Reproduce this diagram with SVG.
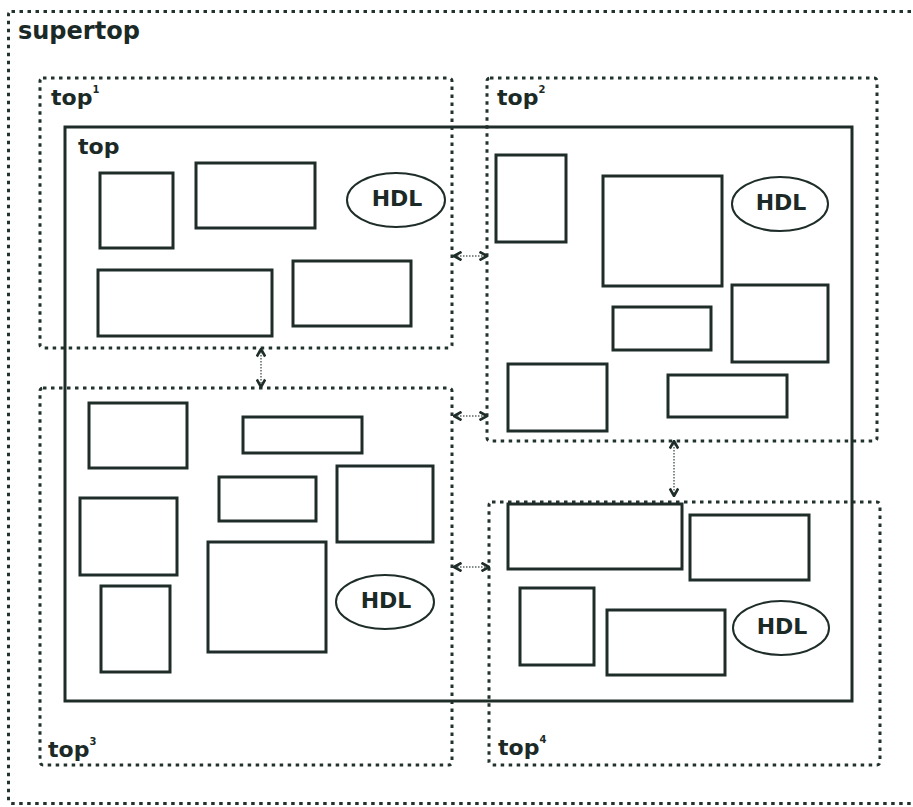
<svg xmlns="http://www.w3.org/2000/svg" width="913" height="807" viewBox="0 0 913 807">
  <defs>
    <style>
      .region { fill: none; stroke: #22322e; stroke-width: 3; stroke-dasharray: 3.5 4.5; }
      .box { fill: #ffffff; stroke: #1e2d29; stroke-width: 3; }
      .main { fill: none; stroke: #1e2d29; stroke-width: 3; }
      .hdl { fill: #ffffff; stroke: #1e2d29; stroke-width: 2; }
      .lbl { font-family: "DejaVu Sans", Verdana, sans-serif; font-weight: bold; fill: #1b2a26; }
      .big { font-size: 24px; }
      .mid { font-size: 22px; }
      .sup { font-size: 10px; }
      .hdlt { font-size: 22px; text-anchor: middle; }
      .link { fill: none; stroke: #5a6663; stroke-width: 1.5; stroke-dasharray: 1.5 1.5; }
    </style>
    <marker id="head" viewBox="0 0 10 10" refX="9" refY="5" markerWidth="10" markerHeight="10" markerUnits="userSpaceOnUse" orient="auto-start-reverse">
      <path d="M1.5,0.8 L9,5 L1.5,9.2" fill="none" stroke="#1e2d29" stroke-width="2.6"/>
    </marker>
  </defs>
  <rect width="913" height="807" fill="#ffffff"/>

  <g id="supertop">
    <rect class="region" x="8.5" y="11.5" width="910" height="792" rx="3"/>
    <text class="lbl big" x="18" y="39">supertop</text>
  </g>

  <g id="top1">
    <rect class="region" x="40" y="78" width="412" height="270" rx="3"/>
    <text class="lbl mid" x="51" y="105">top<tspan class="sup" dy="-12">1</tspan></text>
  </g>
  <g id="top2">
    <rect class="region" x="487" y="78" width="390" height="363" rx="3"/>
    <text class="lbl mid" x="497" y="105">top<tspan class="sup" dy="-12">2</tspan></text>
  </g>
  <g id="top3">
    <rect class="region" x="40" y="388" width="412" height="377" rx="3"/>
    <text class="lbl mid" x="48" y="757">top<tspan class="sup" dy="-12">3</tspan></text>
  </g>
  <g id="top4">
    <rect class="region" x="489" y="502" width="391" height="263" rx="3"/>
    <text class="lbl mid" x="498" y="755">top<tspan class="sup" dy="-12">4</tspan></text>
  </g>

  <g id="top">
    <rect class="main" x="65" y="127" width="787" height="574"/>
    <text class="lbl mid" x="78" y="154">top</text>
  </g>

  <g id="top1-blocks">
    <rect class="box" x="100" y="173" width="73" height="75"/>
    <rect class="box" x="196" y="163" width="119" height="65"/>
    <rect class="box" x="98" y="270" width="174" height="66"/>
    <rect class="box" x="293" y="261" width="118" height="65"/>
    <g id="hdl1">
      <ellipse class="hdl" cx="396" cy="200" rx="49" ry="27"/>
      <text class="lbl hdlt" x="397" y="206">HDL</text>
    </g>
  </g>

  <g id="top2-blocks">
    <rect class="box" x="496" y="155" width="70" height="87"/>
    <rect class="box" x="603" y="176" width="119" height="110"/>
    <rect class="box" x="613" y="307" width="98" height="43"/>
    <rect class="box" x="732" y="285" width="96" height="77"/>
    <rect class="box" x="508" y="364" width="99" height="67"/>
    <rect class="box" x="668" y="375" width="119" height="42"/>
    <g id="hdl2">
      <ellipse class="hdl" cx="780" cy="204" rx="48" ry="27"/>
      <text class="lbl hdlt" x="781" y="210">HDL</text>
    </g>
  </g>

  <g id="top3-blocks">
    <rect class="box" x="89" y="403" width="98" height="65"/>
    <rect class="box" x="243" y="417" width="119" height="36"/>
    <rect class="box" x="80" y="498" width="97" height="77"/>
    <rect class="box" x="219" y="477" width="97" height="44"/>
    <rect class="box" x="337" y="466" width="96" height="76"/>
    <rect class="box" x="208" y="542" width="118" height="110"/>
    <rect class="box" x="101" y="586" width="69" height="86"/>
    <g id="hdl3">
      <ellipse class="hdl" cx="385" cy="602" rx="49" ry="27"/>
      <text class="lbl hdlt" x="386" y="608">HDL</text>
    </g>
  </g>

  <g id="top4-blocks">
    <rect class="box" x="508" y="504" width="174" height="65"/>
    <rect class="box" x="690" y="515" width="119" height="65"/>
    <rect class="box" x="520" y="588" width="74" height="77"/>
    <rect class="box" x="607" y="610" width="118" height="65"/>
    <g id="hdl4">
      <ellipse class="hdl" cx="781" cy="628" rx="48" ry="27"/>
      <text class="lbl hdlt" x="782" y="634">HDL</text>
    </g>
  </g>

  <g id="connectors">
    <line class="link" x1="454" y1="256" x2="487" y2="256" marker-start="url(#head)" marker-end="url(#head)"/>
    <line class="link" x1="454" y1="416" x2="487" y2="416" marker-start="url(#head)" marker-end="url(#head)"/>
    <line class="link" x1="454" y1="567" x2="489" y2="567" marker-start="url(#head)" marker-end="url(#head)"/>
    <line class="link" x1="261" y1="349" x2="261" y2="387" marker-start="url(#head)" marker-end="url(#head)"/>
    <line class="link" x1="674" y1="441" x2="674" y2="496" marker-start="url(#head)" marker-end="url(#head)"/>
  </g>
</svg>
